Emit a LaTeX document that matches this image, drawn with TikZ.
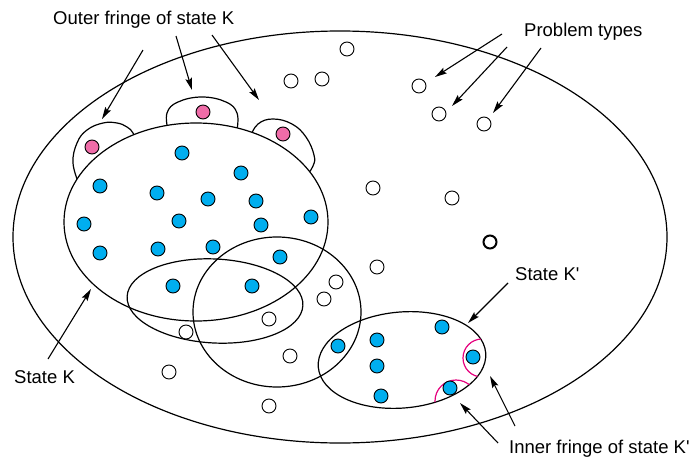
\documentclass[tikz,border=0pt]{standalone}
\usepackage{fontspec}
\setmainfont{Liberation Sans}
\newfontfamily\plainsans{Liberation Sans}
\usetikzlibrary{arrows.meta}
\definecolor{dotblue}{HTML}{00AEEF}
\definecolor{dotpink}{HTML}{EF6CA8}
\definecolor{fringe}{HTML}{E5007D}
\begin{document}
\begin{tikzpicture}[x=1pt,y=-1pt,
  region/.style={draw=black, line width=1.2pt},
  fringearc/.style={draw=fringe, line width=1.2pt},
  dotbase/.style={circle, draw=black, line width=0.9pt, minimum size=14pt, inner sep=0pt},
  bdot/.style={dotbase, fill=dotblue},
  pdot/.style={dotbase, fill=dotpink},
  wdot/.style={dotbase, fill=white},
  wdotthick/.style={dotbase, fill=white, line width=2pt, minimum size=13pt},
  lbl/.style={font=\plainsans\fontsize{18.5}{22}\selectfont, anchor=base west, inner sep=0pt},
  pointer/.style={line width=1.1pt, -{Stealth[length=12pt,width=6.5pt,inset=2pt]}},
]
\useasboundingbox (0,0) rectangle (691,458);

% universe of problem types
\draw[region] (340,237) ellipse [x radius=327, y radius=206];

% outer fringe bumps
\draw[region] plot[smooth, tension=0.7] coordinates {(79,184) (73,163) (77,143) (87,130) (103,123) (117,123) (127,127) (133,133) (136,143)};
\draw[region] plot[smooth, tension=0.7] coordinates {(168,130) (167,113) (178,102) (202,97) (226,102) (237,113) (237,130)};
\draw[region] plot[smooth, tension=0.7] coordinates {(250,137) (258,124) (273,119) (292,124) (306,137) (314,155) (313,166) (305,178)};

% state K
\draw[region, fill=white] (196,222) ellipse [x radius=132, y radius=99];
% other states
\draw[region, rotate around={-3:(215,301)}] (215,301) ellipse [x radius=88, y radius=42];
\draw[region] (277,312) ellipse [x radius=84, y radius=75];
\draw[region, rotate around={5:(402,360)}] (402,360) ellipse [x radius=84, y radius=48];

% inner fringe of state K'
\begin{scope}
  \clip[rotate around={5:(402,360)}] (402,360) ellipse [x radius=84, y radius=48];
  \draw[fringearc] (482,358) circle [radius=19];
  \draw[fringearc] (456,401) circle [radius=21];
\end{scope}

% dots
\foreach \p [count=\i] in {(182,153),(100,186),(241,173),(157,193),(208,199),(256,201),(84,224),(179,221),(261,225),(311,217),(100,253),(158,249),(213,247),(280,257),(173,286),(252,286),(338,346),(377,340),(377,366),(381,396),(442,327),(473,357),(450,388)}
  \node[bdot] (b\i) at \p {};
\foreach \p [count=\i] in {(92,147),(203,112),(283,134)}
  \node[pdot] (p\i) at \p {};
\foreach \p [count=\i] in {(347,49),(291,81),(322,79),(419,86),(439,114),(484,124),(373,188),(452,198),(377,267),(336,282),(324,299),(269,319),(186,332),(290,356),(169,372),(269,406)}
  \node[wdot] (w\i) at \p {};
\node[wdotthick] (wt) at (490,242) {};

% labels
\node[lbl] (outerlbl) at (53,24) {Outer fringe of state K};
\node[lbl] (problbl) at (524,36) {Problem types};
\node[lbl] (klbl) at (14,383) {State K};
\node[lbl] (kplbl) at (515,280) {State K'};
\node[lbl] (innerlbl) at (509,453) {Inner fringe of state K'};

% pointer ends
\coordinate (of1s) at (143,50);  \coordinate (of1t) at (102,119);
\coordinate (of2s) at (176,36);  \coordinate (of2t) at (192,90);
\coordinate (of3s) at (212,35);  \coordinate (of3t) at (259,100);
\coordinate (pt1s) at (502,34);  \coordinate (pt1t) at (435,77);
\coordinate (pt2s) at (507,47);  \coordinate (pt2t) at (452,106);
\coordinate (pt3s) at (541,48);  \coordinate (pt3t) at (493,113);
\coordinate (sks) at (48,359);   \coordinate (skt) at (91,289);
\coordinate (skps) at (508,283); \coordinate (skpt) at (468,323);
\coordinate (if1s) at (498,443); \coordinate (if1t) at (460,403);
\coordinate (if2s) at (515,426); \coordinate (if2t) at (490,376);

\draw[pointer] (of1s) -- (of1t);
\draw[pointer] (of2s) -- (of2t);
\draw[pointer] (of3s) -- (of3t);
\draw[pointer] (pt1s) -- (pt1t);
\draw[pointer] (pt2s) -- (pt2t);
\draw[pointer] (pt3s) -- (pt3t);
\draw[pointer] (sks) -- (skt);
\draw[pointer] (skps) -- (skpt);
\draw[pointer] (if1s) -- (if1t);
\draw[pointer] (if2s) -- (if2t);
\end{tikzpicture}
\end{document}
